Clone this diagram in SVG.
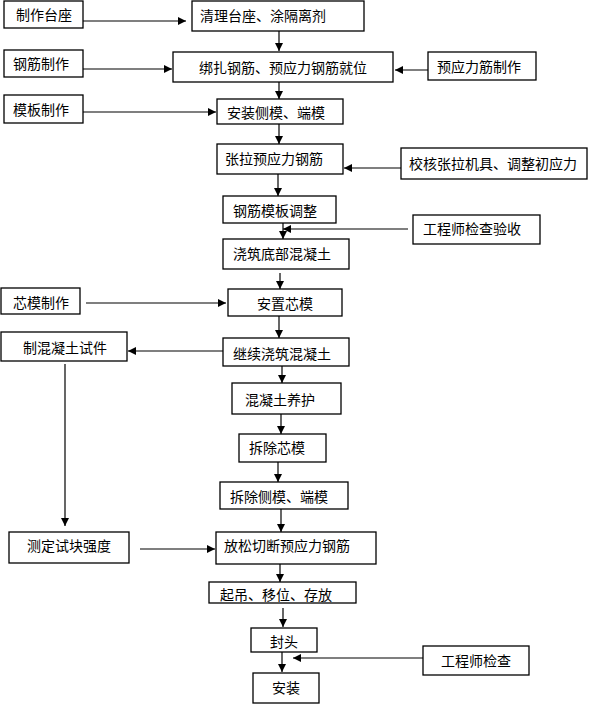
<svg xmlns="http://www.w3.org/2000/svg" width="594" height="704" viewBox="0 0 594 704">
<style>
.b{fill:#fff;stroke:#000;stroke-width:1.3}
.t{font-family:"Noto Sans CJK SC","Liberation Sans",sans-serif;font-size:14px;fill:#000;dominant-baseline:central}
.c line{stroke:#000;stroke-width:1.2;marker-end:url(#ah)}
</style>
<defs>
<marker id="ah" markerUnits="userSpaceOnUse" markerWidth="9" markerHeight="9" refX="8" refY="4.5" orient="auto">
<path d="M0,0.5 L8,4.5 L0,8.5 z" fill="#000"/>
</marker>
</defs>
<rect width="594" height="704" fill="#fff"/>
<g class="c" id="connectors">
<line x1="83" y1="21" x2="186" y2="21"/>
<line x1="279" y1="31" x2="279" y2="51"/>
<line x1="83" y1="69" x2="172" y2="69"/>
<line x1="428" y1="70" x2="395" y2="70"/>
<line x1="279" y1="82" x2="279" y2="99"/>
<line x1="83" y1="112" x2="216" y2="112"/>
<line x1="279" y1="124" x2="279" y2="144"/>
<line x1="401" y1="168" x2="344" y2="168"/>
<line x1="278" y1="174" x2="278" y2="196"/>
<line x1="283" y1="223" x2="283" y2="239"/>
<line x1="408" y1="229" x2="283" y2="229"/>
<line x1="280" y1="273" x2="280" y2="289"/>
<line x1="86" y1="303" x2="226" y2="303"/>
<line x1="279" y1="316" x2="279" y2="338"/>
<line x1="223" y1="351" x2="128" y2="351"/>
<line x1="282" y1="366" x2="282" y2="383"/>
<line x1="281" y1="414" x2="281" y2="434"/>
<line x1="278" y1="462" x2="278" y2="482"/>
<line x1="281" y1="509" x2="281" y2="532"/>
<line x1="65" y1="364" x2="65" y2="526"/>
<line x1="140" y1="549" x2="215" y2="549"/>
<line x1="280" y1="564" x2="280" y2="582"/>
<line x1="283" y1="608" x2="283" y2="627"/>
<line x1="282" y1="652" x2="282" y2="672"/>
<line x1="423" y1="658" x2="293" y2="658"/>
</g>
<g id="n1"><rect class="b" x="4" y="1" width="79" height="27"/><text class="t" x="16" y="14">制作台座</text></g>
<g id="n2"><rect class="b" x="192" y="1" width="172" height="30"/><text class="t" x="200" y="15">清理台座、涂隔离剂</text></g>
<g id="n3"><rect class="b" x="4" y="50" width="79" height="27"/><text class="t" x="13" y="63">钢筋制作</text></g>
<g id="n4"><rect class="b" x="173" y="52" width="220" height="30"/><text class="t" x="199" y="67">绑扎钢筋、预应力钢筋就位</text></g>
<g id="n5"><rect class="b" x="428" y="52" width="108" height="28"/><text class="t" x="437" y="66">预应力筋制作</text></g>
<g id="n6"><rect class="b" x="4" y="95" width="79" height="28"/><text class="t" x="13" y="109">模板制作</text></g>
<g id="n7"><rect class="b" x="217" y="99" width="126" height="25"/><text class="t" x="227" y="112">安装侧模、端模</text></g>
<g id="n8"><rect class="b" x="217" y="144" width="126" height="30"/><text class="t" x="225" y="158">张拉预应力钢筋</text></g>
<g id="n9"><rect class="b" x="401" y="148" width="186" height="31"/><text class="t" x="409" y="163">校核张拉机具、调整初应力</text></g>
<g id="n10"><rect class="b" x="223" y="196" width="113" height="27"/><text class="t" x="233" y="210">钢筋模板调整</text></g>
<g id="n11"><rect class="b" x="413" y="215" width="127" height="29"/><text class="t" x="423" y="228">工程师检查验收</text></g>
<g id="n12"><rect class="b" x="223" y="239" width="126" height="30"/><text class="t" x="233" y="253">浇筑底部混凝土</text></g>
<g id="n13"><rect class="b" x="1" y="288" width="79" height="26"/><text class="t" x="13" y="302">芯模制作</text></g>
<g id="n14"><rect class="b" x="228" y="289" width="114" height="27"/><text class="t" x="257" y="303">安置芯模</text></g>
<g id="n15"><rect class="b" x="1" y="332" width="126" height="29"/><text class="t" x="23" y="347">制混凝土试件</text></g>
<g id="n16"><rect class="b" x="223" y="338" width="126" height="28"/><text class="t" x="233" y="353">继续浇筑混凝土</text></g>
<g id="n17"><rect class="b" x="232" y="383" width="109" height="31"/><text class="t" x="245" y="399">混凝土养护</text></g>
<g id="n18"><rect class="b" x="239" y="434" width="87" height="28"/><text class="t" x="249" y="447">拆除芯模</text></g>
<g id="n19"><rect class="b" x="220" y="482" width="128" height="27"/><text class="t" x="230" y="496">拆除侧模、端模</text></g>
<g id="n20"><rect class="b" x="9" y="532" width="120" height="31"/><text class="t" x="27" y="545">测定试块强度</text></g>
<g id="n21"><rect class="b" x="216" y="532" width="160" height="32"/><text class="t" x="224" y="545">放松切断预应力钢筋</text></g>
<g id="n22"><rect class="b" x="209" y="582" width="147" height="21"/><text class="t" x="220" y="594">起吊、移位、存放</text></g>
<g id="n23"><rect class="b" x="251" y="628" width="66" height="24"/><text class="t" x="270" y="641">封头</text></g>
<g id="n24"><rect class="b" x="423" y="646" width="106" height="29"/><text class="t" x="441" y="660">工程师检查</text></g>
<g id="n25"><rect class="b" x="253" y="673" width="66" height="30"/><text class="t" x="272" y="687">安装</text></g>
</svg>
